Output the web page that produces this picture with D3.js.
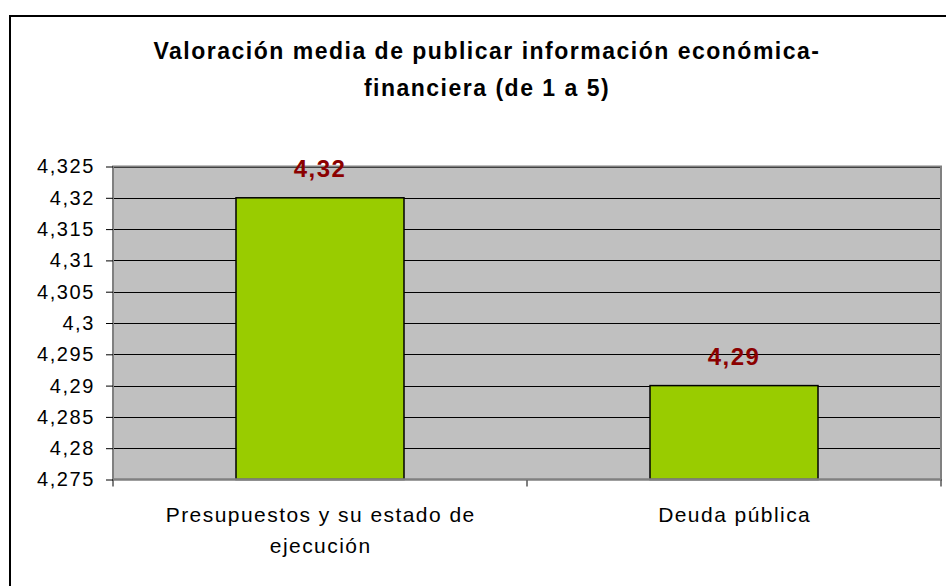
<!DOCTYPE html>
<html><head><meta charset="utf-8">
<script src="https://cdn.jsdelivr.net/npm/d3@7"></script>
<style>body{margin:0;background:#fff}svg{display:block}</style>
</head><body>
<script>
const categories = [["Presupuestos y su estado de","ejecución"],["Deuda pública"]];
const values = [4.32, 4.29];
const valueLabels = ["4,32","4,29"];
const yTicks = [4.275,4.28,4.285,4.29,4.295,4.3,4.305,4.31,4.315,4.32,4.325];
const titleLines = ["Valoración media de publicar información económica-","financiera (de 1 a 5)"];

const W=946,H=586;
const svg=d3.select("body").append("svg").attr("width",W).attr("height",H);
const font="Liberation Sans, Arial, sans-serif";
svg.append("rect").attr("x",10).attr("y",16).attr("width",W+20).attr("height",H+20)
  .attr("fill","#fff").attr("stroke","#000").attr("stroke-width",2);

const L=113,R=941,T=166.5,B=479.5;
const x=d3.scaleBand().domain(d3.range(categories.length)).range([L,R]);
const y=d3.scaleLinear().domain([4.275,4.325]).range([B,T]);

svg.append("rect").attr("x",L).attr("y",T).attr("width",R-L).attr("height",B-T).attr("fill","#c0c0c0");
svg.append("g").selectAll("line").data(yTicks.slice(1)).join("line")
  .attr("x1",L).attr("x2",R).attr("y1",d=>Math.round(y(d))+0.5).attr("y2",d=>Math.round(y(d))+0.5)
  .attr("stroke","#000").attr("stroke-width",1);

const bw=168;
svg.append("g").selectAll("rect").data(values).join("rect")
  .attr("x",(d,i)=>x(i)+x.bandwidth()/2-bw/2).attr("width",bw)
  .attr("y",d=>y(d)).attr("height",d=>B-y(d))
  .attr("fill","#99cc00").attr("stroke","#000").attr("stroke-width",1.5);

svg.append("rect").attr("x",L).attr("y",T).attr("width",R-L).attr("height",B-T)
  .attr("fill","none").attr("stroke","#808080").attr("stroke-width",2);

// y axis
const ya=svg.append("g").attr("transform",`translate(${L},0)`)
  .call(d3.axisLeft(y).tickValues(yTicks).tickSize(7).tickPadding(11)
    .tickFormat(d=>d3.format(".3~f")(d).replace(".",",")));
ya.select(".domain").remove();
ya.selectAll(".tick line").attr("stroke","#000");
ya.selectAll("text").attr("font-family",font).attr("font-size",20).attr("fill","#000")
  .attr("letter-spacing",1.6);

// x axis ticks at boundaries
svg.append("g").selectAll("line").data(d3.range(categories.length+1)).join("line")
  .attr("x1",i=>i<categories.length?x(i):R).attr("x2",i=>i<categories.length?x(i):R)
  .attr("y1",B).attr("y2",B+7).attr("stroke","#000");
svg.append("line").attr("x1",L).attr("x2",R).attr("y1",B).attr("y2",B).attr("stroke","#808080").attr("stroke-width",2);

// category labels
categories.forEach((lines,i)=>{
  lines.forEach((t,j)=>{
    svg.append("text").attr("x",x(i)+x.bandwidth()/2+0.7).attr("y",522+j*31)
      .attr("text-anchor","middle").attr("font-family",font).attr("font-size",21)
      .attr("letter-spacing",1.45).attr("fill","#000").text(t);
  });
});

// value labels
svg.append("g").selectAll("text").data(values).join("text")
  .attr("x",(d,i)=>x(i)+x.bandwidth()/2).attr("y",d=>y(d)-21)
  .attr("text-anchor","middle").attr("font-family",font).attr("font-weight","bold")
  .attr("font-size",24).attr("letter-spacing",1.4).attr("fill","#8b0000").text((d,i)=>valueLabels[i]);

// title
titleLines.forEach((t,j)=>{
  svg.append("text").attr("x",487).attr("y",59+j*37).attr("text-anchor","middle")
    .attr("font-family",font).attr("font-weight","bold").attr("font-size",23)
    .attr("letter-spacing",1.5).attr("fill","#000").text(t);
});
</script>
</body></html>
